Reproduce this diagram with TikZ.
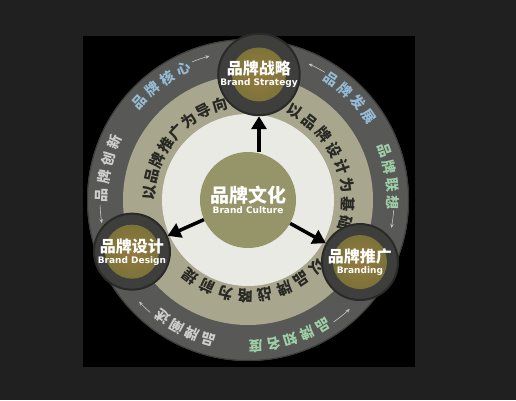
\documentclass[tikz,border=0pt]{standalone}
\usepackage{fontspec}
\usetikzlibrary{arrows.meta}
\newfontfamily\cjk{Noto Sans CJK SC}
\newfontfamily\lat{DejaVu Sans}
\definecolor{pagebg}    {RGB} {32,32,32}
\definecolor{ringgrey}  {RGB} {88,88,86}
\definecolor{ringedge}  {RGB} {60,60,58}
\definecolor{beige}     {RGB} {168,166,140}
\definecolor{paper}     {RGB} {234,234,228}
\definecolor{olive}     {RGB} {150,149,106}
\definecolor{stagegrey} {RGB} {62,62,60}
\definecolor{stageedge} {RGB} {42,42,40}
\definecolor{glow}      {RGB} {150,122,62}
\definecolor{olivedeep} {RGB} {112,112,56}
\definecolor{inktext}   {RGB} {40,40,36}
\definecolor{skytext}   {RGB} {148,186,212}
\definecolor{mint}      {RGB} {158,206,166}
\definecolor{ashtext}   {RGB} {206,206,206}
\definecolor{thinarrow} {RGB} {196,196,196}
\newcommand{\ringtext}[6]{%
  \foreach \ch [count=\i] in {#6}
    \node[#5, rotate={#3-(\i-1)*(#4)-90}] (#1\i) at ({#3-(\i-1)*(#4)}:#2) {\ch};}
\newcommand{\stagelabel}[2]{{\cjk\bfseries\fontsize{16}{19}\selectfont #1}\\[-1pt]{\lat\bfseries\fontsize{9}{10}\selectfont #2}}

\begin{document}
\begin{tikzpicture}[
    x=1pt, y=1pt,
    hub/.style = {circle, fill=olive, minimum size=96pt, inner sep=0pt, align=center, text=white},
    stage/.style = {circle, fill=stagegrey, draw=stageedge, line width=2pt, minimum size=76pt, inner sep=0pt,
        align=center, text=white,
        path picture={\shade[inner color=glow, outer color=olivedeep] (path picture bounding box.center) circle (27pt);}},
    innerchar/.style = {inner sep=0pt, text=inktext, font=\cjk\bfseries\fontsize{15}{15}\selectfont},
    outerchar/.style = {inner sep=0pt, font=\cjk\bfseries\fontsize{14}{14}\selectfont},
    bigarrow/.style = {draw=black, line width=3.5pt, -{Triangle[length=13pt,width=15pt]}},
    ringarrow/.style = {draw=thinarrow, line width=0.6pt, -{Stealth[length=4pt,width=3.5pt]}}
  ]
  \fill[pagebg] (0,0) rectangle (516,400);
  \fill[black] (83,33) rectangle (415,364);
  \begin{scope}[shift={(248,200)}]
    % rings
    \fill[ringgrey] (0,0) circle (161pt);
    \draw[ringedge, line width=1pt] (0,0) circle (160.5pt);
    \fill[beige] (0,0) circle (125pt);
    \fill[paper] (0,0) circle (86pt);

    % inner ring texts
    \ringtext{lead}{99pt}{176}{9.9}{innerchar}{以,品,牌,推,广,为,导,向}
    \ringtext{base}{100pt}{62.4}{10.8}{innerchar}{以,品,牌,设,计,为,基,础}
    \ringtext{premise}{96pt}{-44}{11.9}{innerchar}{以,品,牌,战,略,为,前,提}

    % outer ring texts
    \ringtext{core}{146pt}{138}{7.3}{outerchar, text=skytext}{品,牌,核,心}
    \ringtext{growth}{147pt}{55.5}{6.9}{outerchar, text=skytext}{品,牌,发,展}
    \ringtext{assoc}{145pt}{20}{7}{outerchar, text=mint}{品,牌,联,想}
    \ringtext{fame}{146pt}{-59}{7}{outerchar, text=mint}{品,牌,知,名,度}
    \ringtext{expl}{145pt}{-106}{6.7}{outerchar, text=ashtext}{品,牌,阐,述}
    \ringtext{innov}{146pt}{178}{7.2}{outerchar, text=ashtext}{品,牌,创,新}

    \draw[ringarrow] (112:149pt) arc[start angle=112, end angle=105, radius=149pt];
    \draw[ringarrow] (59:149pt) arc[start angle=59, end angle=66, radius=149pt];
    \draw[ringarrow] (-4:146pt) arc[start angle=-4, end angle=-11, radius=146pt];
    \draw[ringarrow] (-55:149pt) arc[start angle=-55, end angle=-47, radius=149pt];
    \draw[ringarrow] (-131:149pt) arc[start angle=-131, end angle=-137, radius=149pt];
    \draw[ringarrow] (182:148pt) arc[start angle=182, end angle=189, radius=148pt];

    % hub and stages
    \node[hub] (culture) at (0,0) {{\cjk\bfseries\fontsize{19}{22}\selectfont 品牌文化}\\[-1pt]{\lat\bfseries\fontsize{9}{10}\selectfont Brand Culture}};
    \node[stage] (strategy) at (85:126pt) {\stagelabel{品牌战略}{Brand Strategy}};
    \node[stage] (design) at (204:127pt) {\stagelabel{品牌设计}{Brand Design}};
    \node[stage] (branding) at (-29:128pt) {\stagelabel{品牌推广}{Branding}};

    \draw[bigarrow] (strategy |- culture.north) -- (strategy);
    \draw[bigarrow] (culture) -- (design);
    \draw[bigarrow] (culture) -- (branding);
  \end{scope}
\end{tikzpicture}
\end{document}
